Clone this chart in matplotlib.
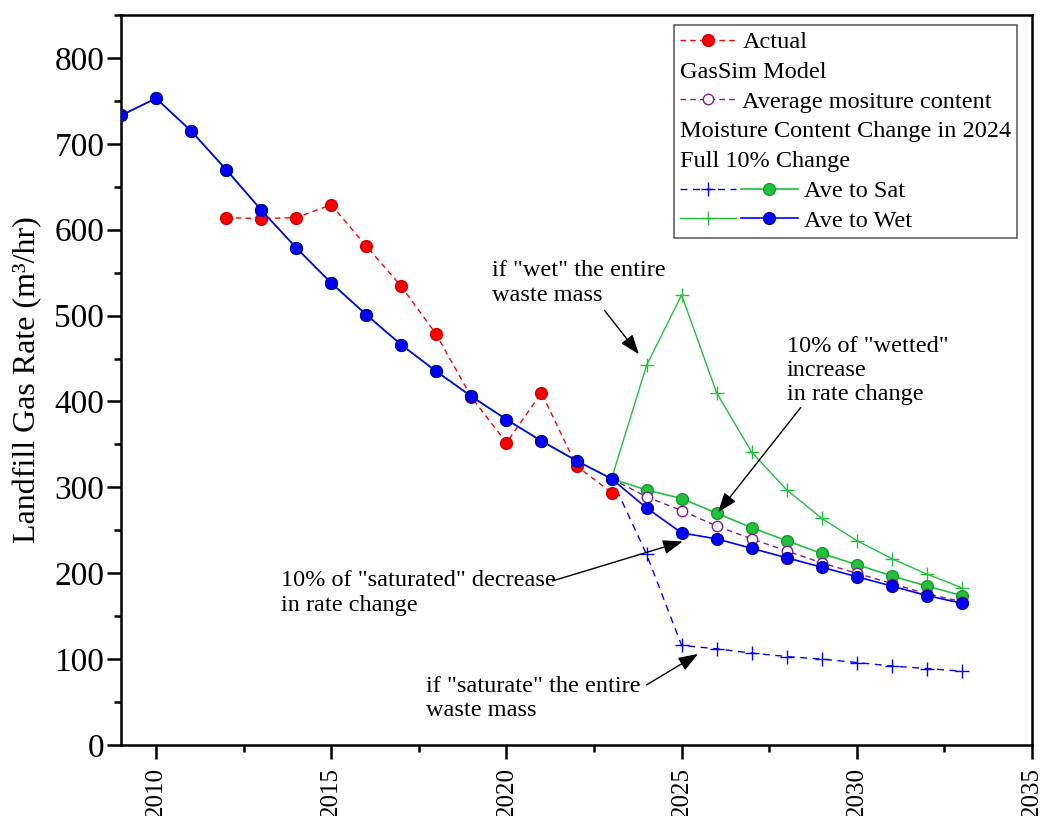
import matplotlib
matplotlib.use('Agg')
import matplotlib.pyplot as plt
from matplotlib.lines import Line2D
from matplotlib.legend_handler import HandlerTuple
from matplotlib.ticker import MultipleLocator

plt.rcParams['font.family'] = ['Liberation Serif', 'DejaVu Serif']

# GasSim model, common part up to 2023
model_years = list(range(2009, 2024))
model_rate = [733, 753, 715, 670, 623, 579, 538, 501, 466, 435, 406, 379, 354, 331, 310]

# projections after the moisture change in 2024
proj_years = list(range(2024, 2034))
ave_to_wet = [276, 247, 240, 229, 218, 207, 196, 185, 174, 165]
ave_to_sat = [297, 287, 270, 253, 238, 223, 210, 197, 185, 174]
ave_moisture = [289, 273, 255, 240, 226, 212, 200, 188, 176, 167]
full_wet = [442, 524, 410, 341, 297, 264, 238, 217, 199, 183]
full_sat = [222, 116, 112, 107, 103, 100, 96, 92, 89, 86]

# measured
actual_years = list(range(2012, 2024))
actual_rate = [614, 613, 614, 629, 581, 534, 478, 405, 352, 410, 325, 294]

RED = '#ff0000'
BLUE = '#0000ff'
GREEN = '#22c03c'
PURPLE = '#8b1a8b'

fig = plt.figure(figsize=(10.4, 8.16), dpi=100)
ax = fig.add_axes([121 / 1040, 71 / 816, 911 / 1040, 730 / 816])

x0 = model_years[-1]
y0 = model_rate[-1]

l_sat, = ax.plot(model_years + proj_years, model_rate + ave_to_sat, color=GREEN, lw=1.2,
                 marker='o', ms=8.5, mfc=GREEN, mec='#149a2c', zorder=3)
l_avg, = ax.plot([x0] + proj_years, [y0] + ave_moisture, color=PURPLE, lw=1, ls=(0, (4, 3)),
                 marker='o', ms=7.5, mfc='white', mec=PURPLE, markevery=slice(1, None), zorder=3)
l_fsat, = ax.plot([x0] + proj_years, [y0] + full_sat, color=BLUE, lw=1, ls=(0, (5, 4)),
                  marker='+', ms=10, mew=1, markevery=slice(1, None), zorder=2)
l_fwet, = ax.plot([x0] + proj_years, [y0] + full_wet, color=GREEN, lw=1,
                  marker='+', ms=10, mew=1, markevery=slice(1, None), zorder=2)
l_act, = ax.plot(actual_years, actual_rate, color=RED, lw=1, ls=(0, (4, 3)),
                 marker='o', ms=8.5, mfc=RED, mec='#c80000', zorder=4)
l_wet, = ax.plot(model_years + proj_years, model_rate + ave_to_wet, color=BLUE, lw=1.2,
                 marker='o', ms=8.5, mfc=BLUE, mec='#0000a0', zorder=5)

ax.set_xlim(2009, 2035)
ax.set_ylim(0, 850)
ax.xaxis.set_major_locator(MultipleLocator(5))
ax.xaxis.set_minor_locator(MultipleLocator(2.5))
ax.yaxis.set_major_locator(MultipleLocator(100))
ax.yaxis.set_minor_locator(MultipleLocator(50))
ax.xaxis.set_major_formatter('{x:.0f}')
ax.tick_params(which='major', direction='out', length=10, width=1.8)
ax.tick_params(which='minor', direction='out', length=5, width=1.8)
ax.tick_params(axis='y', labelsize=24, pad=2)
ax.tick_params(axis='x', labelsize=18, pad=6, labelrotation=90)
for s in ax.spines.values():
    s.set_linewidth(1.8)

ax.set_ylabel('Landfill Gas Rate (m³/hr)', fontsize=23)
ax.yaxis.set_label_coords(-0.087, 0.5)

# annotations
arrow = dict(arrowstyle='-|>,head_length=0.6,head_width=0.22', mutation_scale=20,
             color='black', lw=1, shrinkA=0, shrinkB=0)
fs = 17.5
ax.text(2019.6, 538, 'if "wet" the entire\nwaste mass', fontsize=fs, ha='left', va='center')
ax.annotate('', xy=(2023.78, 455), xytext=(2022.8, 506), arrowprops=arrow)
ax.text(2028.0, 436, '10% of "wetted"\nincrease\nin rate change', fontsize=fs, ha='left', va='center')
ax.annotate('', xy=(2026.04, 271), xytext=(2028.4, 393), arrowprops=arrow)
ax.text(2013.57, 177, '10% of "saturated" decrease\nin rate change', fontsize=fs, ha='left', va='center')
ax.annotate('', xy=(2025.03, 237), xytext=(2021.31, 191), arrowprops=arrow)
ax.text(2017.71, 54, 'if "saturate" the entire\nwaste mass', fontsize=fs, ha='left', va='center')
ax.annotate('', xy=(2025.47, 106), xytext=(2024.0, 70), arrowprops=arrow)

# legend
blank = Line2D([], [], ls='none')
handles = [(l_act, blank), blank, (l_avg, blank), blank, blank, (l_fsat, l_sat), (l_fwet, l_wet)]
labels = ['Actual', 'GasSim Model', 'Average mositure content',
          'Moisture Content Change in 2024', 'Full 10% Change', 'Ave to Sat', 'Ave to Wet']
hl = 4.85
tpad = 0.2
leg = ax.legend(handles, labels, handler_map={tuple: HandlerTuple(ndivide=None, pad=tpad)},
                loc='upper right', bbox_to_anchor=(0.9835, 0.9863), borderaxespad=0,
                fontsize=fs, handlelength=hl, handletextpad=0.25, labelspacing=0.32,
                borderpad=0.25, fancybox=False, edgecolor='#555555', framealpha=1)
leg.get_frame().set_linewidth(1.1)

rows = leg._legend_handle_box.get_children()[0].get_children()
for row, h in zip(rows, handles):
    da = row.get_children()[0]
    if h is blank:
        da.width = 0
        row.sep = 0
    elif h[1] is blank:
        da.width = (hl - tpad) / 2 * fs

fig.savefig('out.png', dpi=100)
